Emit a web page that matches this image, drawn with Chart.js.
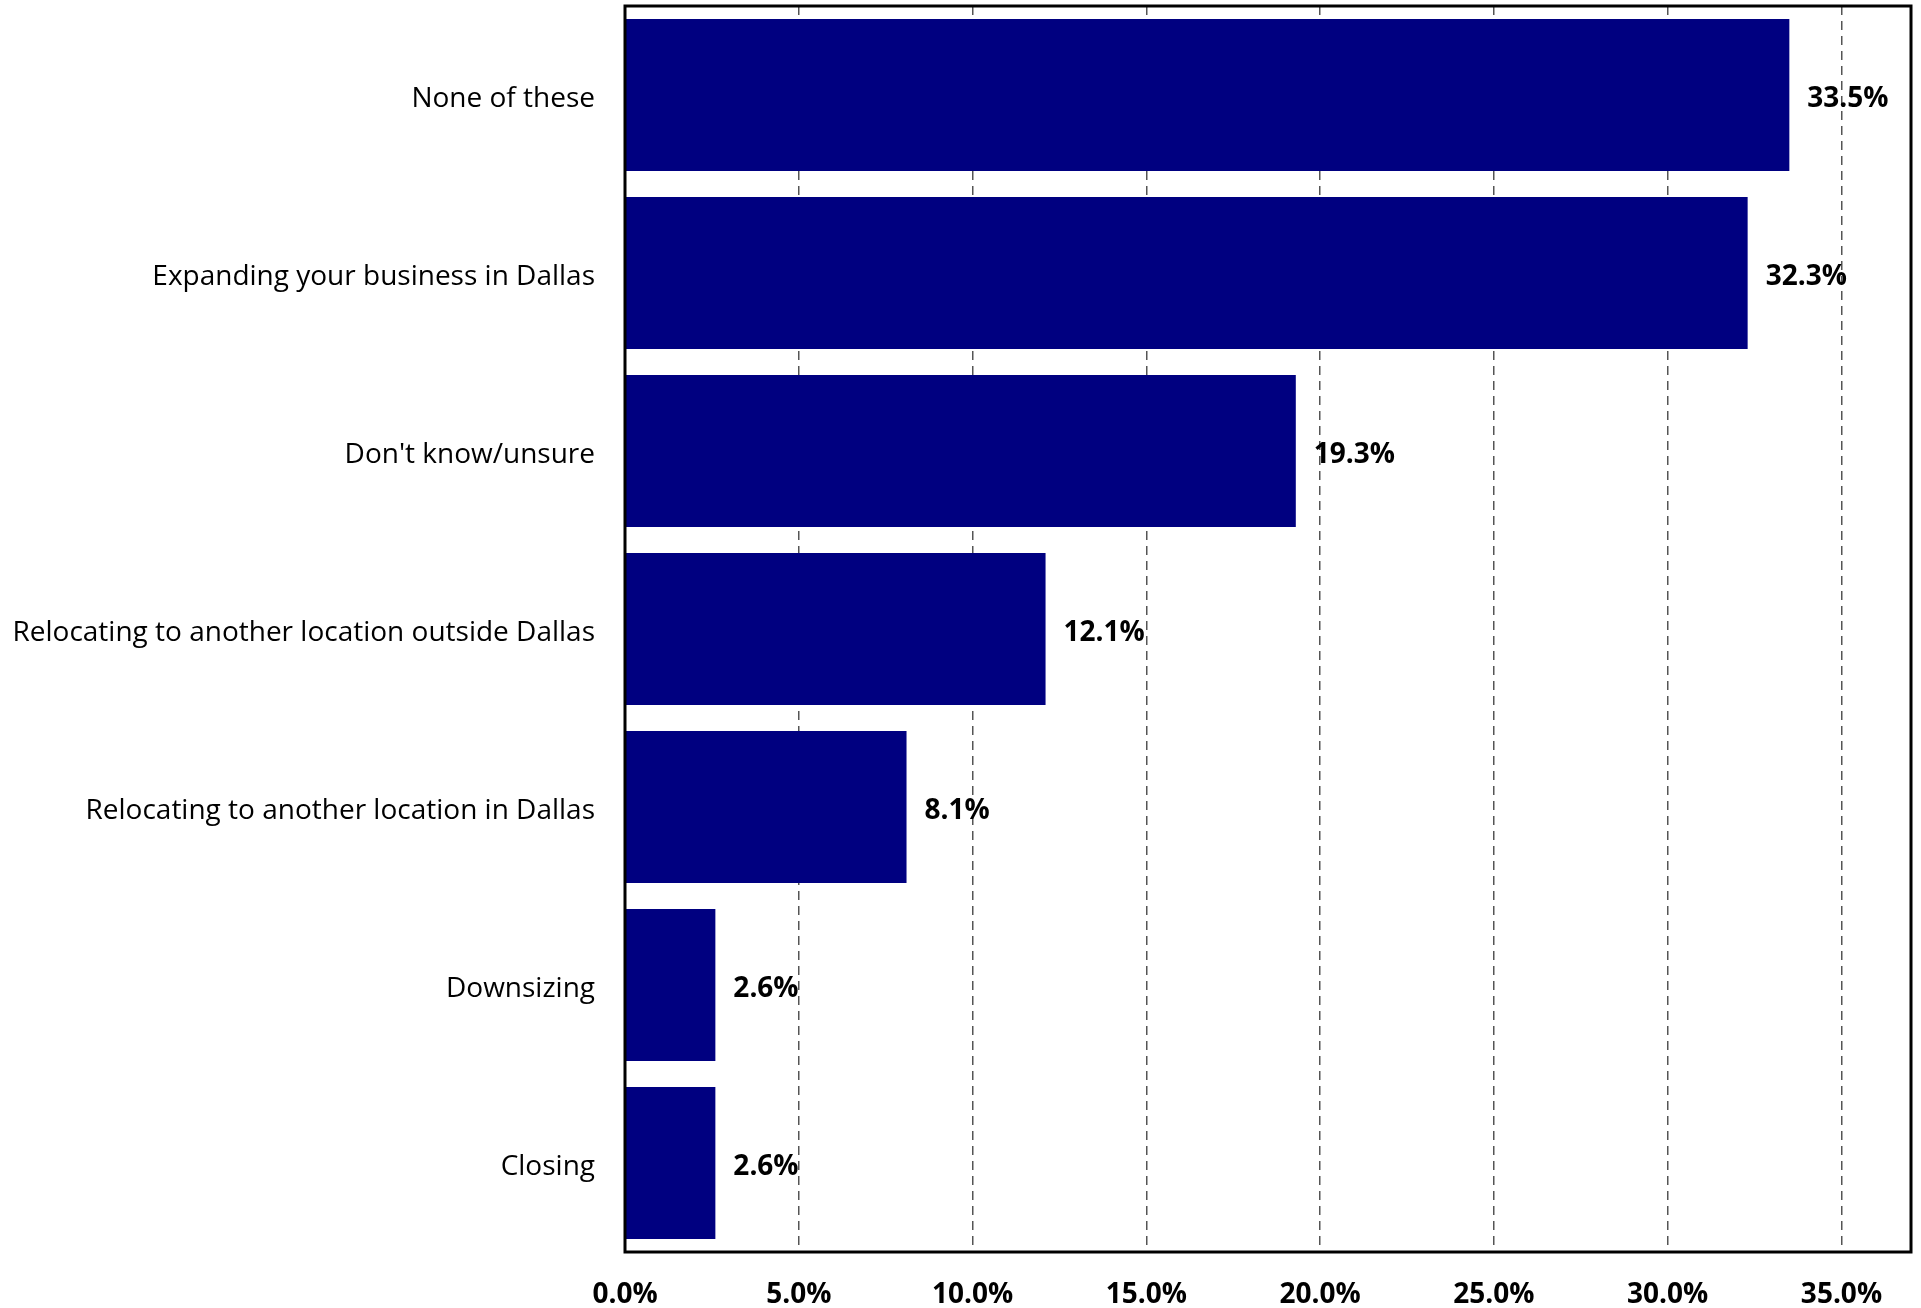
<!DOCTYPE html>
<html>
<head>
<meta charset="utf-8">
<script src="https://cdn.jsdelivr.net/npm/chart.js@4.4.1/dist/chart.umd.min.js"></script>
<style>
  html, body { margin: 0; padding: 0; background: #fff; }
  #wrap { width: 1921px; height: 1308px; }
</style>
</head>
<body>
<div id="wrap"><canvas id="chart" width="1921" height="1308"></canvas></div>
<script>
const categories = [
    "None of these",
    "Expanding your business in Dallas",
    "Don't know/unsure",
    "Relocating to another location outside Dallas",
    "Relocating to another location in Dallas",
    "Downsizing",
    "Closing"
];
const shares = [33.5, 32.3, 19.3, 12.1, 8.1, 2.6, 2.6];
const axisMax = 37;
const axisStep = 5;

const FONT = "'Open Sans', 'Noto Sans', sans-serif";

// value labels to the right of each bar
const valueLabels = {
    id: 'valueLabels',
    afterDatasetsDraw(chart) {
        const ctx = chart.ctx;
        const meta = chart.getDatasetMeta(0);
        ctx.save();
        ctx.font = "bold 28px " + FONT;
        ctx.fillStyle = '#000';
        ctx.textAlign = 'left';
        ctx.textBaseline = 'middle';
        meta.data.forEach((bar, i) => {
            ctx.fillText(shares[i].toFixed(1) + '%', bar.x + 18, bar.y + 4);
        });
        ctx.restore();
    }
};

// black frame round the plot
const frame = {
    id: 'frame',
    afterDraw(chart) {
        const a = chart.chartArea;
        const ctx = chart.ctx;
        ctx.save();
        ctx.strokeStyle = '#000';
        ctx.lineWidth = 3;
        ctx.strokeRect(a.left, a.top, a.right - a.left, a.bottom - a.top);
        ctx.restore();
    }
};

new Chart(document.getElementById('chart'), {
    type: 'bar',
    data: {
        labels: categories,
        datasets: [{
            data: shares,
            backgroundColor: '#000080',
            borderWidth: 0,
            barPercentage: 0.854,
            categoryPercentage: 1.0
        }]
    },
    options: {
        indexAxis: 'y',
        responsive: false,
        animation: false,
        layout: { padding: { top: 6, right: 10, left: 0, bottom: 0 } },
        plugins: {
            legend: { display: false },
            tooltip: { enabled: false }
        },
        scales: {
            x: {
                min: 0,
                max: axisMax,
                afterBuildTicks: axis => {
                    axis.ticks = axis.ticks.filter(t => t.value % axisStep === 0);
                },
                afterFit: axis => { axis.height = 56; },
                ticks: {
                    stepSize: axisStep,
                    color: '#000',
                    padding: 26,
                    maxRotation: 0,
                    font: { family: FONT, size: 28, weight: 'bold' },
                    callback: v => v.toFixed(1) + '%'
                },
                grid: {
                    drawTicks: false,
                    color: ctx => ctx.tick && ctx.tick.value === 0 ? 'rgba(0,0,0,0)' : '#555',
                    lineWidth: 1.5
                },
                border: { display: false, dash: [9, 6] }
            },
            y: {
                afterFit: axis => {
                    axis.width = 625;
                    axis.paddingTop = 0;
                    axis.paddingBottom = 0;
                },
                ticks: {
                    color: '#000',
                    padding: 30,
                    labelOffset: 4,
                    font: { family: FONT, size: 28 }
                },
                grid: { display: false, drawTicks: false },
                border: { display: false }
            }
        }
    },
    plugins: [valueLabels, frame]
});
</script>
</body>
</html>
